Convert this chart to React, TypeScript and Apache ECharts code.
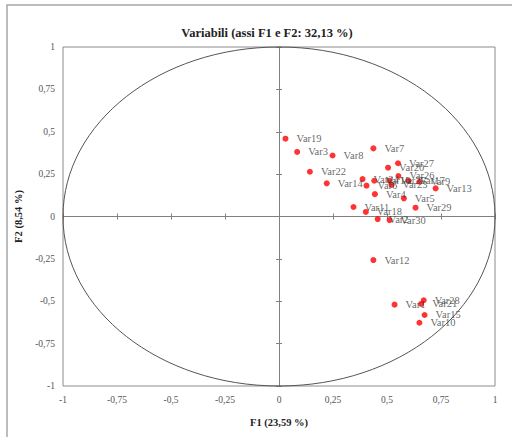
import React, { useEffect, useRef } from "react";
import * as echarts from "echarts";

const names = ["Var19","Var3","Var8","Var7","Var22","Var14","Var27","Var20","Var26","Var24","Var16","Var6","Var25","Var23","Var17","Var9","Var13","Var4","Var5","Var11","Var18","Var29","Var2","Var30","Var12","Var1","Var28","Var21","Var15","Var10"];
const f1 = [0.030,0.084,0.248,0.437,0.143,0.221,0.551,0.505,0.553,0.387,0.441,0.405,0.512,0.521,0.600,0.650,0.725,0.444,0.578,0.345,0.402,0.632,0.457,0.512,0.437,0.535,0.670,0.658,0.674,0.650];
const f2 = [0.459,0.381,0.360,0.402,0.264,0.196,0.314,0.288,0.239,0.221,0.211,0.182,0.211,0.186,0.211,0.205,0.166,0.132,0.107,0.056,0.027,0.052,-0.015,-0.021,-0.257,-0.520,-0.494,-0.516,-0.581,-0.627];
const axisMin = -1;
const axisMax = 1;
const axisStep = 0.25;

const SERIF = "'Liberation Serif', 'DejaVu Serif', serif";
const fmt = (v: number) => String(v).replace(".", ",");

export default function App() {
  const ref = useRef<HTMLDivElement>(null);
  useEffect(() => {
    const chart = echarts.init(ref.current!, null, { renderer: "svg" });
    const base = { min: axisMin, max: axisMax, interval: axisStep, type: "value" as const };
    const hidden = {
      axisLabel: { show: false },
      splitLine: { show: false },
    };
    chart.setOption({
      animation: false,
      backgroundColor: "#ffffff",
      title: {
        text: "Variabili (assi F1 e F2: 32,13 %)",
        left: 262,
        textAlign: "center",
        top: 21,
        textStyle: { fontFamily: SERIF, fontSize: 12.5, fontWeight: "bold", color: "#222" },
      },
      graphic: [
        {
          type: "rect",
          shape: { x: 7, y: 5, width: 520, height: 450 },
          style: { fill: "none", stroke: "#a6a6a6", lineWidth: 1.5 },
          silent: true,
        },
      ],
      grid: {
        left: 63,
        top: 47,
        width: 432,
        height: 339,
        show: true,
        borderColor: "#8c8c8c",
        borderWidth: 1,
        containLabel: false,
      },
      xAxis: [
        {
          ...base,
          position: "bottom",
          axisLine: { show: false, onZero: false },
          axisTick: { show: false },
          splitLine: { show: false },
          axisLabel: { formatter: fmt, fontFamily: SERIF, fontSize: 9.5, color: "#555", margin: 9 },
          name: "F1 (23,59 %)",
          nameLocation: "middle",
          nameGap: 31,
          nameTextStyle: { fontFamily: SERIF, fontSize: 10.5, fontWeight: "bold", color: "#222" },
        },
        {
          ...base,
          ...hidden,
          position: "bottom",
          axisLine: { show: true, onZero: true, onZeroAxisIndex: 0, lineStyle: { color: "#808080", width: 1 } },
          axisTick: { show: true, length: 3, inside: false, lineStyle: { color: "#808080" } },
        },
        {
          ...base,
          ...hidden,
          position: "bottom",
          axisLine: { show: false, onZero: true, onZeroAxisIndex: 0 },
          axisTick: { show: true, length: 3, inside: true, lineStyle: { color: "#808080" } },
        },
      ],
      yAxis: [
        {
          ...base,
          position: "left",
          axisLine: { show: false, onZero: false },
          axisTick: { show: false },
          splitLine: { show: false },
          axisLabel: { formatter: fmt, fontFamily: SERIF, fontSize: 9.5, color: "#555", margin: 8 },
          name: "F2 (8,54 %)",
          nameLocation: "middle",
          nameGap: 33,
          nameTextStyle: { fontFamily: SERIF, fontSize: 10.5, fontWeight: "bold", color: "#222" },
        },
        {
          ...base,
          ...hidden,
          position: "left",
          axisLine: { show: true, onZero: true, onZeroAxisIndex: 0, lineStyle: { color: "#808080", width: 1 } },
          axisTick: { show: true, length: 3, inside: false, lineStyle: { color: "#808080" } },
        },
        {
          ...base,
          ...hidden,
          position: "left",
          axisLine: { show: false, onZero: true, onZeroAxisIndex: 0 },
          axisTick: { show: true, length: 3, inside: true, lineStyle: { color: "#808080" } },
        },
      ],
      series: [
        {
          type: "custom",
          xAxisIndex: 0,
          yAxisIndex: 0,
          silent: true,
          data: [[0, 0]],
          renderItem: (params: any, api: any) => {
            const c = api.coord([0, 0]);
            const s = api.size([1, 1]);
            return {
              type: "ellipse",
              shape: { cx: c[0], cy: c[1], rx: s[0], ry: s[1] },
              style: { fill: "none", stroke: "#555", lineWidth: 1 },
            };
          },
          z: 1,
        },
        {
          type: "scatter",
          xAxisIndex: 0,
          yAxisIndex: 0,
          symbol: "circle",
          symbolSize: 6,
          itemStyle: { color: "#ff0000" },
          data: names.map((n, i) => ({ name: n, value: [f1[i], f2[i]] })),
          label: {
            show: true,
            position: "right",
            distance: 8,
            formatter: (p: any) => p.name,
            fontFamily: SERIF,
            fontSize: 10.5,
            color: "#404040",
          },
          z: 3,
        },
      ],
    });
    return () => chart.dispose();
  }, []);
  return <div ref={ref} style={{ position: "fixed", left: 0, top: 0, width: 512, height: 437 }} />;
}
